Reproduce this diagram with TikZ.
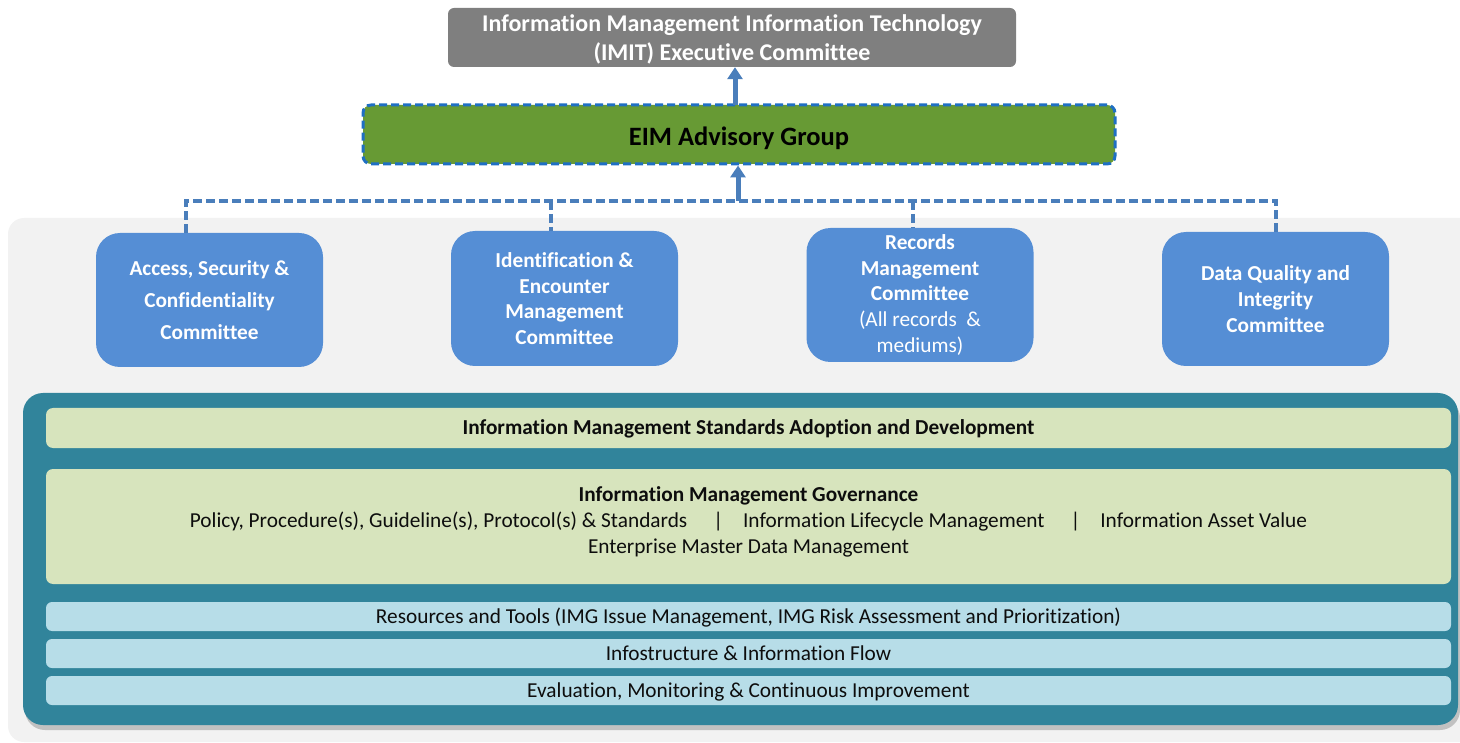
\documentclass[tikz,border=0pt]{standalone}
\usepackage{fontspec}
\setmainfont{Carlito}[Ligatures=NoCommon]
\usetikzlibrary{arrows.meta,shadows}
\definecolor{imitgray}{HTML}{7F7F7F}
\definecolor{eimgreen}{HTML}{679A34}
\definecolor{eimborder}{HTML}{1F6FC3}
\definecolor{linkblue}{HTML}{4A7EBB}
\definecolor{commblue}{HTML}{558ED5}
\definecolor{panelgray}{HTML}{F2F2F2}
\definecolor{tealframe}{HTML}{31849B}
\definecolor{lightgreen}{HTML}{D7E4BD}
\definecolor{lightblue}{HTML}{B7DDE8}
\definecolor{darktext}{HTML}{0D0D0D}
\tikzset{
  imitbox/.style={rectangle, rounded corners=6pt, fill=imitgray, text=white, align=center,
    font=\fontsize{24}{29}\selectfont\bfseries, inner sep=0pt, text depth=0pt},
  eimbox/.style={rectangle, rounded corners=8pt, fill=eimgreen, draw=eimborder, line width=3pt,
    dash pattern=on 8pt off 4pt, text=black, align=center, font=\fontsize{26.5}{30}\selectfont\bfseries,
    inner sep=0pt, text height=23pt, text depth=0pt},
  commbox/.style={rectangle, rounded corners=24pt, fill=commblue, text=white, align=center,
    minimum width=227pt, minimum height=134pt, inner sep=0pt},
  bus/.style={draw=linkblue, line width=3.2pt, dash pattern=on 9pt off 4pt},
  uparrow/.style={draw=linkblue, line width=5pt, -{Triangle[length=12pt,width=15pt]}},
  framebox/.style={rectangle, rounded corners=20pt, fill=tealframe, inner sep=0pt,
    drop shadow={shadow xshift=2pt, shadow yshift=-5pt, opacity=0.35, fill=black!60}},
  greenband/.style={rectangle, rounded corners=7pt, fill=lightgreen, text=darktext, align=center,
    minimum width=1405pt, inner sep=0pt},
  blueband/.style={rectangle, rounded corners=6pt, fill=lightblue, text=darktext, align=center,
    minimum width=1405pt, minimum height=29pt, inner sep=0pt, font=\fontsize{21.3}{26}\selectfont,
    text height=15pt, text depth=1pt},
  plaintext/.style={inner sep=0pt, text=darktext, align=center},
}
\begin{document}
\begin{tikzpicture}[x=1pt,y=-1pt]
\useasboundingbox (0,0) rectangle (1460,743);
\clip (0,0) rectangle (1460,743);
% light gray panel
\fill[panelgray, rounded corners=16pt] (8,218) rectangle (1490,742);

% top committee
\node[imitbox, minimum width=568pt, minimum height=59pt] (imit) at (732,37.5)
  {Information Management Information Technology\\(IMIT) Executive Committee};

% EIM advisory group
\node[eimbox, minimum width=752pt, minimum height=59pt] (eim) at (739,134.5) {EIM Advisory Group};

% committees
\node[commbox, font=\fontsize{21.3}{32}\selectfont\bfseries] (c1) at (209.5,300)
  {Access, Security \&\\Confidentiality\\Committee};
\node[commbox, minimum height=135pt, font=\fontsize{21.3}{25.5}\selectfont\bfseries] (c2) at (564.5,298.5)
  {Identification \&\\Encounter\\Management\\Committee};
\node[commbox, font=\fontsize{21.3}{25.7}\selectfont] (c3) at (920,295)
  {\textbf{Records}\\\textbf{Management}\\\textbf{Committee}\\(All records~ \&\\mediums)};
\node[commbox, font=\fontsize{21.3}{26}\selectfont\bfseries] (c4) at (1275.5,299)
  {Data Quality and\\Integrity\\Committee};

% bus coordinates
\coordinate (d1) at (186,201);
\coordinate (d2) at (551,201);
\coordinate (d3) at (913,201);
\coordinate (d4) at (1276,201);
\coordinate (aup) at (738,201);
\coordinate (atop) at (735,105);

\draw[bus] (d1 |- c1.north) -- (d1) -- (d4) -- (d4 |- c4.north);
\draw[bus] (d2) -- (d2 |- c2.north);
\draw[bus] (d3) -- (d3 |- c3.north);

\draw[uparrow] (aup) -- (aup |- eim.south);
\draw[uparrow] (atop) -- (atop |- imit.south);

% teal frame
\node[framebox, minimum width=1435pt, minimum height=332pt] (frame) at (740.5,559) {};

\node[greenband, minimum height=40pt, font=\fontsize{21.3}{26}\selectfont\bfseries,
      text height=15pt, text depth=1pt] (std) at (748.5,428)
  {Information Management Standards Adoption and Development};
\node[greenband, minimum height=115pt] (gov) at (748.5,526.5) {};
\node[plaintext, font=\fontsize{21.3}{26}\selectfont] (govtext) at ([yshift=5pt]gov.center)
  {\textbf{Information Management Governance}\\
   Policy, Procedure(s), Guideline(s), Protocol(s) \& Standards\hspace{26pt}|\hspace{20pt}Information Lifecycle Management\hspace{26pt}|\hspace{20pt}Information Asset Value\\
   Enterprise Master Data Management};
\node[blueband] (res) at (748.5,616.5)
  {Resources and Tools (IMG Issue Management, IMG Risk Assessment and Prioritization)};
\node[blueband] (info) at (748.5,653.5) {Infostructure \& Information Flow};
\node[blueband] (eval) at (748.5,690.5) {Evaluation, Monitoring \& Continuous Improvement};
\end{tikzpicture}
\end{document}
